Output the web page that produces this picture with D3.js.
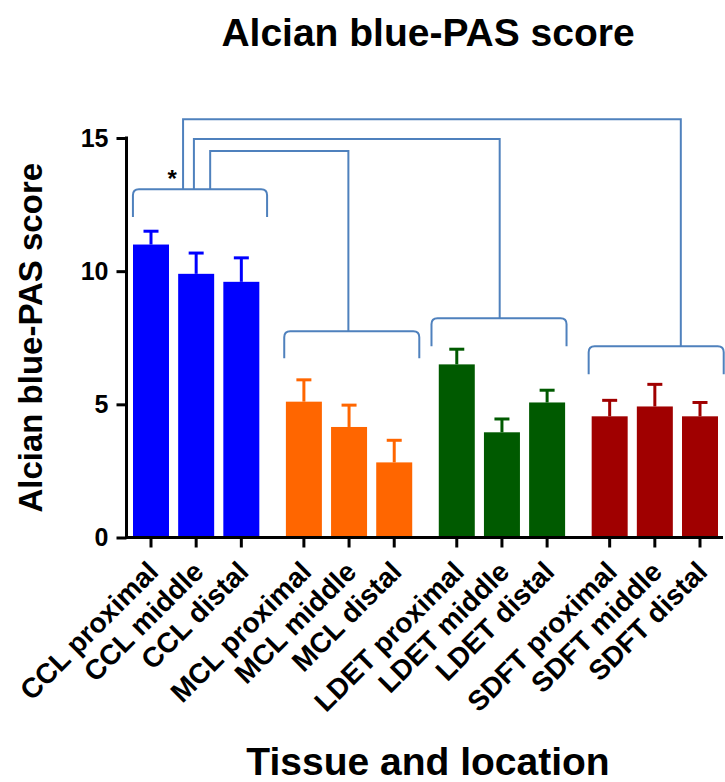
<!DOCTYPE html>
<html>
<head>
<meta charset="utf-8">
<script src="https://cdn.jsdelivr.net/npm/d3@7"></script>
<style>
  body { margin: 0; background: #fff; }
  text { font-family: "Liberation Sans", Arial, sans-serif; font-weight: bold; }
</style>
</head>
<body>
<div id="chart"></div>
<script>
// data
var groups = ["CCL", "MCL", "LDET", "SDFT"];
var locations = ["proximal", "middle", "distal"];
var groupColors = ["#0000ff", "#ff6600", "#005a00", "#a00000"];
var means = [11.0, 9.9, 9.6, 5.1, 4.15, 2.82, 6.5, 3.95, 5.07, 4.55, 4.92, 4.55];
var sems = [0.5, 0.78, 0.9, 0.82, 0.82, 0.83, 0.57, 0.5, 0.46, 0.6, 0.83, 0.52];
var yTicks = [0, 5, 10, 15];

// group brackets: [left slot, right slot, top value, leg value]
var groupBrackets = [
    {from: -0.4, to: 2.57, top: 13.08, leg: 12.03},
    {from: 2.95, to: 5.94, top: 7.74, leg: 6.73},
    {from: 6.21, to: 9.2, top: 8.23, leg: 7.18},
    {from: 9.69, to: 12.68, top: 7.18, leg: 6.13}
];
// comparison lines from the CCL bracket to the other brackets
var comparisons = [
    {x1: 0.71, x2: 11.73, level: 15.7, target: 3},
    {x1: 0.95, x2: 7.72, level: 14.96, target: 2},
    {x1: 1.31, x2: 4.37, level: 14.51, target: 1}
];
var starPos = {slot: 0.47, value: 13.8};

var width = 725, height = 782;
var groupGap = 0.385;   // extra slot space between groups

var bars = [];
for (var g = 0; g < groups.length; g++) {
    for (var l = 0; l < locations.length; l++) {
        var i = g * locations.length + l;
        bars.push({
            label: groups[g] + " " + locations[l],
            slot: i + g * groupGap,
            mean: means[i],
            sem: sems[i],
            color: groupColors[g]
        });
    }
}

var svg = d3.select("#chart").append("svg")
    .attr("width", width)
    .attr("height", height);

var x = d3.scaleLinear().domain([0, 11 + 3 * groupGap]).range([151, 700]);
var y = d3.scaleLinear().domain([0, 15]).range([537.5, 138]);
var axisX = 126.5;
var barWidth = 36;
var capWidth = 15;

// bars
svg.append("g").selectAll("rect")
    .data(bars)
    .enter().append("rect")
    .attr("x", function(d) { return x(d.slot) - barWidth / 2; })
    .attr("y", function(d) { return y(d.mean); })
    .attr("width", barWidth)
    .attr("height", function(d) { return y(0) - y(d.mean); })
    .attr("fill", function(d) { return d.color; });

// error bars (upper only)
var err = svg.append("g").selectAll("g")
    .data(bars)
    .enter().append("g")
    .attr("stroke", function(d) { return d.color; })
    .attr("stroke-width", 3);
err.append("line")
    .attr("x1", function(d) { return x(d.slot); })
    .attr("x2", function(d) { return x(d.slot); })
    .attr("y1", function(d) { return y(d.mean); })
    .attr("y2", function(d) { return y(d.mean + d.sem); });
err.append("line")
    .attr("x1", function(d) { return x(d.slot) - capWidth / 2; })
    .attr("x2", function(d) { return x(d.slot) + capWidth / 2; })
    .attr("y1", function(d) { return y(d.mean + d.sem); })
    .attr("y2", function(d) { return y(d.mean + d.sem); });

// y axis
var yAxis = svg.append("g")
    .attr("transform", "translate(" + axisX + ",0)")
    .call(d3.axisLeft(y).tickValues(yTicks).tickSize(10).tickPadding(8));
yAxis.select(".domain").attr("stroke-width", 3).attr("d", "M0," + (y(15) - 1.5) + "V" + y(0));
yAxis.selectAll(".tick line").attr("stroke-width", 3);
yAxis.selectAll(".tick text").attr("font-size", 25).attr("font-family", null);

// x axis
var xAxis = svg.append("g")
    .attr("transform", "translate(0," + y(0) + ")");
xAxis.append("line")
    .attr("x1", axisX - 1.5).attr("x2", 723)
    .attr("stroke", "#000").attr("stroke-width", 3);
xAxis.selectAll(".xtick")
    .data(bars)
    .enter().append("line")
    .attr("x1", function(d) { return x(d.slot); })
    .attr("x2", function(d) { return x(d.slot); })
    .attr("y1", 0).attr("y2", 10)
    .attr("stroke", "#000").attr("stroke-width", 3);
xAxis.selectAll(".xlabel")
    .data(bars)
    .enter().append("text")
    .attr("transform", function(d) { return "translate(" + (x(d.slot) + 9) + ",36) rotate(-45)"; })
    .attr("text-anchor", "end")
    .attr("font-size", 28)
    .text(function(d) { return d.label; });

// brackets
var r = 6;
var bracketColor = "#4f81bd";
svg.append("g").selectAll("path")
    .data(groupBrackets)
    .enter().append("path")
    .attr("fill", "none")
    .attr("stroke", bracketColor)
    .attr("stroke-width", 2)
    .attr("d", function(d) {
        var x1 = x(d.from), x2 = x(d.to), yt = y(d.top), yl = y(d.leg);
        return "M" + x1 + "," + yl + "L" + x1 + "," + (yt + r) +
            "Q" + x1 + "," + yt + " " + (x1 + r) + "," + yt +
            "L" + (x2 - r) + "," + yt +
            "Q" + x2 + "," + yt + " " + x2 + "," + (yt + r) +
            "L" + x2 + "," + yl;
    });

svg.append("g").selectAll("path")
    .data(comparisons)
    .enter().append("path")
    .attr("fill", "none")
    .attr("stroke", bracketColor)
    .attr("stroke-width", 2)
    .attr("d", function(d) {
        return "M" + x(d.x1) + "," + y(groupBrackets[0].top) +
            "V" + y(d.level) + "H" + x(d.x2) +
            "V" + y(groupBrackets[d.target].top);
    });

svg.append("text")
    .attr("x", x(starPos.slot))
    .attr("y", y(starPos.value))
    .attr("text-anchor", "middle")
    .attr("dy", "0.7em")
    .attr("font-size", 24)
    .text("*");

// titles
svg.append("text")
    .attr("x", 428).attr("y", 46)
    .attr("text-anchor", "middle")
    .attr("font-size", 39)
    .text("Alcian blue-PAS score");

svg.append("text")
    .attr("transform", "translate(42," + y(7.5) + ") rotate(-90)")
    .attr("text-anchor", "middle")
    .attr("font-size", 33)
    .text("Alcian blue-PAS score");

svg.append("text")
    .attr("x", 428).attr("y", 775)
    .attr("text-anchor", "middle")
    .attr("font-size", 39)
    .text("Tissue and location");
</script>
</body>
</html>
